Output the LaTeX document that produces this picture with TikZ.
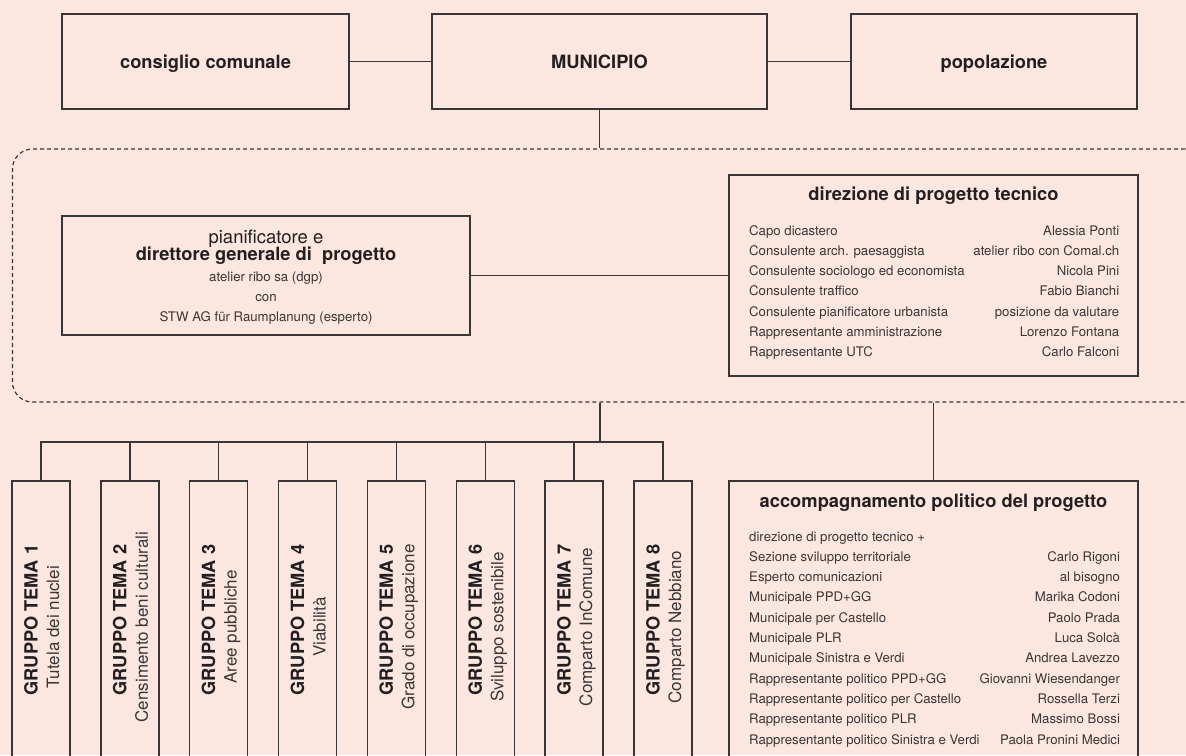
\documentclass[tikz,border=0pt]{standalone}
\usepackage{fontspec}
\setmainfont{TeX Gyre Heros}
\definecolor{bg}{RGB}{252,230,224}
\definecolor{ln}{RGB}{58,53,54}
\definecolor{tx}{RGB}{35,31,32}
\definecolor{tl}{RGB}{58,54,54}
\begin{document}
\begin{tikzpicture}[x=1pt,y=-1pt,
  frame/.style={draw=ln, line width=1.5pt, inner sep=0pt},
  conn/.style={draw=ln, line width=1.5pt},
  headtxt/.style={font=\fontsize{18.3}{22}\selectfont\bfseries, text=tx, text height=13pt, text depth=0pt},
  labeltxt/.style={inner sep=0pt, text=tx},
  bigbold/.style={labeltxt, anchor=base, font=\fontsize{18.3}{22}\selectfont\bfseries},
  bigreg/.style={labeltxt, anchor=base, font=\fontsize{18.5}{22}\selectfont},
  smalltxt/.style={labeltxt, font=\fontsize{13.2}{20.3}\selectfont, text=tl},
  grptitle/.style={labeltxt, anchor=base, rotate=90, font=\fontsize{18.2}{22}\selectfont\bfseries},
  grpsub/.style={labeltxt, anchor=base, rotate=90, font=\fontsize{17}{22}\selectfont, text=tl},
  dashframe/.style={draw=ln, line width=1.2pt, dash pattern=on 4pt off 3pt, rounded corners=20pt, inner sep=0pt},
]
\useasboundingbox (0,0) rectangle (1186,755);
\fill[bg] (0,0) rectangle (1186,755);

% top row
\node[frame, headtxt, minimum width=287pt, minimum height=95pt] (cons) at (205.5,61.5) {consiglio comunale};
\node[frame, headtxt, minimum width=335pt, minimum height=95pt] (muni) at (599.5,61.5) {MUNICIPIO};
\node[frame, headtxt, minimum width=286pt, minimum height=95pt] (pop) at (994,61.5) {popolazione};
\draw[conn] (cons.east) -- (muni.west);
\draw[conn] (muni.east) -- (pop.west);

% dashed container
\node[dashframe, minimum width=1192.5pt, minimum height=253pt] (team) at (608.75,275.5) {};
\draw[conn] (muni.south) -- (muni.south |- team.north);

% pianificatore
\node[frame, minimum width=408pt, minimum height=119pt] (pian) at (266,275.5) {};
\node[bigreg] (p1) at (266,243) {pianificatore e};
\node[bigbold] (p2) at (266,260) {direttore generale di~ progetto};
\node[smalltxt, anchor=base] (p3) at (266,281) {atelier ribo sa (dgp)};
\node[smalltxt, anchor=base] (p4) at (266,301) {con};
\node[smalltxt, anchor=base] (p5) at (266,321) {STW AG für Raumplanung (esperto)};

% direzione
\node[frame, minimum width=409pt, minimum height=201pt] (dir) at (933.5,275.5) {};
\node[bigbold] (dirt) at (933.5,200) {direzione di progetto tecnico};
\node[smalltxt, anchor=base west] (dirr) at (749,235) {\begin{tabular*}{370pt}[t]{@{}l@{\extracolsep{\fill}}r@{}}
Capo dicastero & Alessia Ponti\\
Consulente arch. paesaggista & atelier ribo con Comal.ch\\
Consulente sociologo ed economista & Nicola Pini\\
Consulente traffico & Fabio Bianchi\\
Consulente pianificatore urbanista & posizione da valutare\\
Rappresentante amministrazione & Lorenzo Fontana\\
Rappresentante UTC & Carlo Falconi
\end{tabular*}};
\draw[conn] (pian.east) -- (dir.west);

% accompagnamento
\node[frame, minimum width=409pt, minimum height=319pt] (acc) at (933.5,640.5) {};
\node[bigbold] (acct) at (933.5,507) {accompagnamento politico del progetto};
\node[smalltxt, anchor=base west] (accr) at (749,541) {\begin{tabular*}{370pt}[t]{@{}l@{\extracolsep{\fill}}r@{}}
direzione di progetto tecnico + & \\
Sezione sviluppo territoriale & Carlo Rigoni\\
Esperto comunicazioni & al bisogno\\
Municipale PPD+GG & Marika Codoni\\
Municipale per Castello & Paolo Prada\\
Municipale PLR & Luca Solcà\\
Municipale Sinistra e Verdi & Andrea Lavezzo\\
Rappresentante politico PPD+GG & Giovanni Wiesendanger\\
Rappresentante politico per Castello & Rossella Terzi\\
Rappresentante politico PLR & Massimo Bossi\\
Rappresentante politico Sinistra e Verdi & Paola Pronini Medici
\end{tabular*}};
\draw[conn] (acc.north |- team.south) -- (acc.north);

% gruppi tema
\foreach \i/\sub in {1/Tutela dei nuclei, 2/Censimento beni culturali, 3/Aree pubbliche, 4/Viabilità, 5/Grado di occupazione, 6/Sviluppo sostenibile, 7/Comparto InComune, 8/Comparto Nebbiano} {
  \pgfmathsetmacro\gl{12+88.86*(\i-1)}
  \node[frame, minimum width=58pt, minimum height=319pt] (g\i) at (\gl+29,640.5) {};
  \node[grptitle] (gt\i) at (\gl+25.5,620) {GRUPPO TEMA \i};
  \node[grpsub] (gs\i) at (\gl+47,627) {\sub};
}
\coordinate (bus) at (600,442);
\draw[conn] (bus |- team.south) -- (bus);
\draw[conn, line cap=rect] (g1.north |- bus) -- (g8.north |- bus);
\foreach \i in {1,...,8} \draw[conn] (g\i.north |- bus) -- (g\i.north);
\end{tikzpicture}
\end{document}
